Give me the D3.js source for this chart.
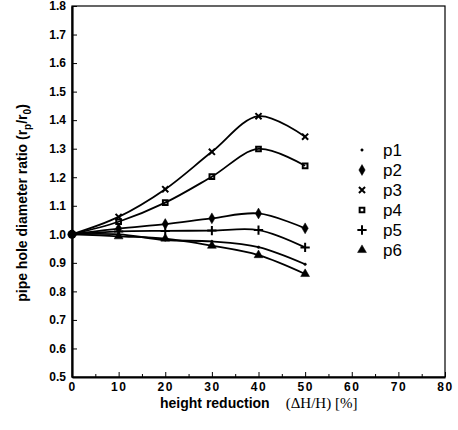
<!DOCTYPE html>
<html>
<head>
<meta charset="utf-8">
<script src="https://cdn.jsdelivr.net/npm/d3@7"></script>
<style>
  body { margin: 0; background: #fff; }
  .tick text { font-family: "Liberation Sans", Arial, sans-serif; font-weight: bold; font-size: 12px; fill: #000; }
  .legend__label { font-family: "Liberation Sans", Arial, sans-serif; font-size: 17px; }
  .axis__title { font-family: "Liberation Sans", Arial, sans-serif; font-weight: bold; font-size: 14px; }
</style>
</head>
<body>
<svg class="pipe-frame"></svg>
<script>
// reduction steps (%)
const reduction = [0, 10, 20, 30, 40, 50];
const seriesNames = ["p1", "p2", "p3", "p4", "p5", "p6"];
const p1 = [1.0, 1.0, 0.98, 0.975, 0.955, 0.895];
const p2 = [1.0, 1.02, 1.036, 1.056, 1.073, 1.021];
const p3 = [1.0, 1.061, 1.158, 1.289, 1.414, 1.342];
const p4 = [1.0, 1.044, 1.111, 1.202, 1.299, 1.24];
const p5 = [1.0, 1.01, 1.012, 1.013, 1.015, 0.954];
const p6 = [1.0, 0.993, 0.985, 0.96, 0.927, 0.861];
const xTicks = [0, 10, 20, 30, 40, 50, 60, 70, 80];
const yTicks = [0.5, 0.6, 0.7, 0.8, 0.9, 1.0, 1.1, 1.2, 1.3, 1.4, 1.5, 1.6, 1.7, 1.8];

const seriesValues = [p1, p2, p3, p4, p5, p6];

const margin = {top: 6, right: 13, bottom: 53, left: 72}
  , width = 458 - margin.left - margin.right
  , height = 430 - margin.top - margin.bottom;

const svg = d3.select(".pipe-frame")
  .attr("width", 458)
  .attr("height", 430)

const graph = svg.append("g")
  .attr("transform", "translate(" + margin.left + "," + margin.top + ")")

const xScale = d3.scaleLinear()
  .range([0, width])
  .domain([0, 80]);

const yScale = d3.scaleLinear()
  .range([height, 0])
  .domain([0.5, 1.8]);

// frame (thin top/right)
graph.append("rect")
  .attr("width", width)
  .attr("height", height)
  .attr("fill", "none")
  .attr("stroke", "#000")
  .attr("stroke-width", 1.2)

// minor x ticks every 5
graph.append("g")
  .attr("transform", "translate(0," + height + ")")
  .call(d3.axisBottom(xScale).tickValues(d3.range(5, 80, 10)).tickSize(-3).tickFormat(""))
  .call(g => g.select(".domain").remove())

const xAxis = d3.axisBottom(xScale)
  .tickValues(xTicks)
  .tickSizeInner(-5)
  .tickSizeOuter(0)
  .tickPadding(5)
  .tickFormat(d3.format("d"))

const yAxis = d3.axisLeft(yScale)
  .tickValues(yTicks)
  .tickSizeInner(-5)
  .tickSizeOuter(0)
  .tickPadding(6)
  .tickFormat(d3.format(".1f"))

graph.append("g")
  .attr("transform", "translate(0," + height + ")")
  .call(xAxis)
  .call(g => g.select(".domain").attr("stroke-width", 2.2))
  .selectAll("text")
  .style("letter-spacing", "1.5px")

graph.append("g")
  .call(yAxis)
  .call(g => g.select(".domain").attr("stroke-width", 2.2))

const line = d3.line()
  .x((d, i) => xScale(reduction[i]))
  .y(d => yScale(d))
  .curve(d3.curveCatmullRom.alpha(0.5));

graph.selectAll(".series")
  .data(seriesValues)
  .enter().append("path")
  .attr("class", "series")
  .attr("d", line)
  .attr("fill", "none")
  .attr("stroke", "#000")
  .attr("stroke-width", 1.8)

const symbols = [
  {type: d3.symbolCircle, size: 5, fill: true},
  {type: d3.symbolDiamond, size: 34, fill: true},
  {type: d3.symbolTimes, size: 26, fill: false},
  {type: d3.symbolSquare, size: 22, fill: false},
  {type: d3.symbolPlus, size: 30, fill: false},
  {type: d3.symbolTriangle, size: 34, fill: true}
];

function drawSymbol(sel, s) {
  sel.attr("d", d3.symbol().type(s.type).size(s.size)())
    .attr("fill", s.fill ? "#000" : "none")
    .attr("stroke", "#000")
    .attr("stroke-width", s.fill ? 0.5 : 2)
}

seriesValues.forEach((vals, k) => {
  graph.selectAll(".pt" + k)
    .data(vals.slice(1))
    .enter().append("path")
    .attr("transform", (d, i) => "translate(" + xScale(reduction[i + 1]) + "," + yScale(d) + ")")
    .call(drawSymbol, symbols[k])
})

// common start point
graph.append("circle")
  .attr("cx", xScale(reduction[0]))
  .attr("cy", yScale(p1[0]))
  .attr("r", 4.5)
  .attr("fill", "#000")

// legend
const legend = graph.selectAll(".legend")
  .data(seriesNames)
  .enter().append("g")
  .attr("transform", (d, i) => "translate(" + (362 - margin.left) + "," + (150 - margin.top + i * 20) + ")")

legend.append("path")
  .each(function(d, i) { d3.select(this).call(drawSymbol, symbols[i]) })

legend.append("text")
  .attr("class", "legend__label")
  .attr("x", 21)
  .attr("dy", "0.35em")
  .text(d => d)

// axis titles
const xTitle = svg.append("text")
  .attr("x", 160)
  .attr("y", 408)
xTitle.append("tspan")
  .attr("class", "axis__title")
  .text("height reduction")
xTitle.append("tspan")
  .attr("dx", 16)
  .style("font-family", "'Liberation Serif', serif")
  .style("font-size", "15px")
  .text("(\u0394H/H) [%]")

const yTitle = svg.append("text")
  .attr("class", "axis__title")
  .attr("transform", "translate(27,203) rotate(-90)")
  .attr("text-anchor", "middle")
yTitle.append("tspan").text("pipe hole diameter ratio (r")
yTitle.append("tspan").attr("dy", 4).style("font-size", "10px").text("p")
yTitle.append("tspan").attr("dy", -4).text("/r")
yTitle.append("tspan").attr("dy", 4).style("font-size", "10px").text("0")
yTitle.append("tspan").attr("dy", -4).text(")")
</script>
</body>
</html>
